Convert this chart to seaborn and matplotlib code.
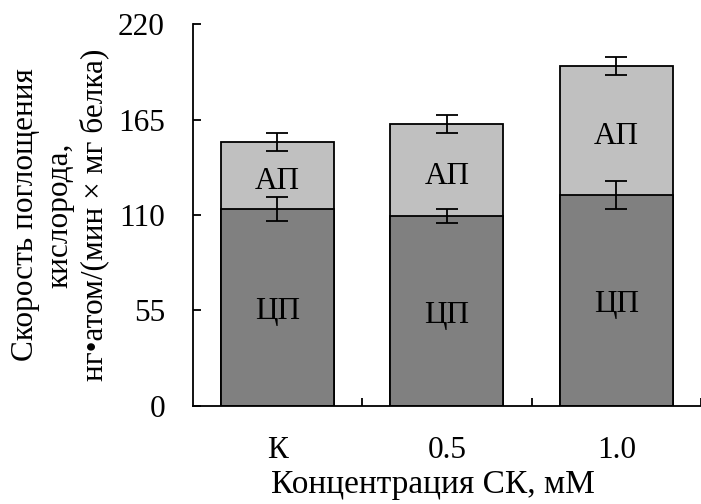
import numpy as np
import pandas as pd
import matplotlib
matplotlib.use("Agg")
import matplotlib.pyplot as plt
import seaborn as sns

categories = ["К", "0.5", "1.0"]
cp_values = [113.3, 109.4, 121.6]      # ЦП
ap_values = [39.0, 53.1, 74.6]         # АП
cp_err = [7.0, 3.9, 8.3]
total_err = [5.3, 5.3, 5.3]
yticks = [0, 55, 110, 165, 220]

sns.set_theme(style="white")
plt.rcParams["font.family"] = ["Liberation Serif", "DejaVu Serif"]

totals = [c + a for c, a in zip(cp_values, ap_values)]
df = pd.DataFrame({"cat": categories, "cp": cp_values, "total": totals})

fig = plt.figure(figsize=(7.01, 5.04), dpi=100)
ax = fig.add_axes([0.2749, 0.1954, 0.7251, 0.756])

light = "#c0c0c0"
dark = "#808080"
sns.barplot(data=df, x="cat", y="total", order=categories, color=light,
            saturation=1, width=0.668, edgecolor="black", linewidth=1.3, ax=ax)
sns.barplot(data=df, x="cat", y="cp", order=categories, color=dark,
            saturation=1, width=0.668, edgecolor="black", linewidth=1.3, ax=ax)

xpos = np.arange(len(categories))
ax.errorbar(xpos, totals, yerr=total_err, fmt="none", ecolor="black",
            elinewidth=1.3, capsize=8, capthick=1.3, zorder=5)
ax.errorbar(xpos, cp_values, yerr=cp_err, fmt="none", ecolor="black",
            elinewidth=1.3, capsize=8, capthick=1.3, zorder=5)

fs = 22.5
for i in range(len(categories)):
    ax.text(xpos[i], (cp_values[i] + totals[i]) / 2 - 3.5, "АП", ha="center",
            va="center", fontsize=fs, color="black", zorder=6)
    ax.text(xpos[i], cp_values[i] / 2 - 2.5, "ЦП", ha="center",
            va="center", fontsize=fs, color="black", zorder=6)

ax.set_xlim(-0.5, 2.5)
ax.set_ylim(0, 220)
ax.set_yticks(yticks)
ax.set_yticklabels([str(v) for v in yticks], fontsize=fs)
ax.set_xticks(xpos)
ax.set_xticklabels(categories, fontsize=fs)
ax.set_xticks([0.5, 1.5, 2.5], minor=True)
ax.tick_params(axis="x", which="major", length=0, pad=22, colors="black")
ax.tick_params(axis="x", which="minor", direction="in", length=6,
               width=1.3, color="black", bottom=True)
ax.tick_params(axis="y", which="major", direction="in", length=6,
               width=1.3, color="black", left=True, pad=20, labelcolor="black")

for s in ["top", "right"]:
    ax.spines[s].set_visible(False)
for s in ["left", "bottom"]:
    ax.spines[s].set_color("black")
    ax.spines[s].set_linewidth(1.3)

ax.set_xlabel("Концентрация СК, мМ", fontsize=24, color="black")
ax.xaxis.set_label_coords(0.472, -0.168)
ax.set_ylabel("Скорость поглощения\nкислорода,\nнг•атом/(мин × мг белка)",
              fontsize=fs, color="black", linespacing=1.22)
ax.yaxis.set_label_coords(-0.165, 0.5)

fig.savefig("out.png", dpi=100)
